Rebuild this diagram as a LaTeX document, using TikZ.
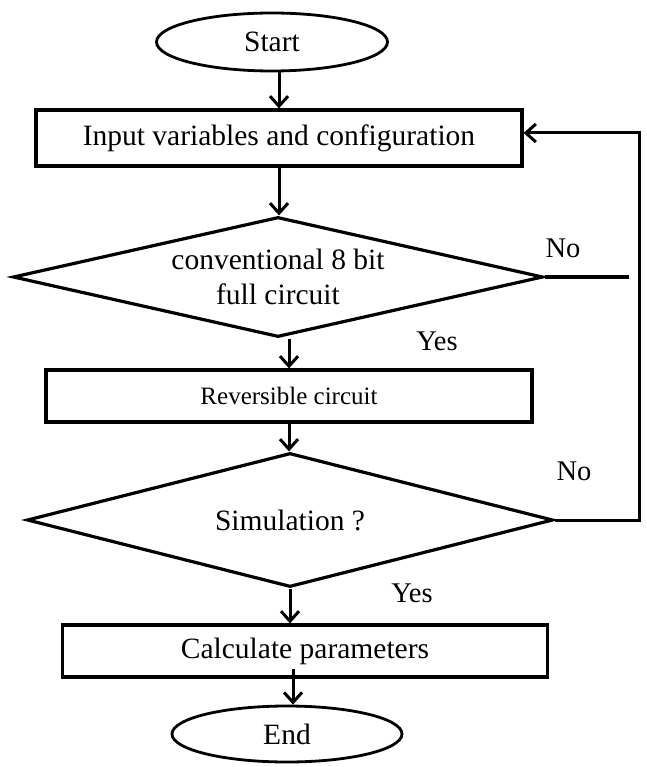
\documentclass[tikz,border=0pt]{standalone}
\usepackage{fontspec}
\setmainfont{Liberation Serif}
\usetikzlibrary{shapes.geometric,arrows.meta}
\begin{document}
\begin{tikzpicture}[x=1pt,y=-1pt,
  base/.style={draw, line width=3.2pt, inner sep=0pt, font=\fontsize{29.5}{35}\selectfont, align=center},
  term/.style={base, ellipse, line width=2.8pt},
  proc/.style={base, rectangle},
  dec/.style={base, diamond, aspect=4.4},
  arr/.style={line width=3pt, -{Straight Barb[length=10pt,width=18pt,line width=3pt]}},
  conn/.style={line width=3.2pt},
  lbl/.style={font=\fontsize{28.5}{34}\selectfont, inner sep=0pt}]
\useasboundingbox (0,0) rectangle (646,767);
\node[term, minimum width=231pt, minimum height=58pt] (start) at (272,42) {Start};
\node[proc, minimum width=486pt, minimum height=56pt] (in) at (279,138) {Input variables and configuration};
\node[dec, minimum width=530pt, minimum height=120pt] (d1) at (278,277) {conventional 8 bit\\full circuit};
\node[proc, minimum width=486pt, minimum height=52pt, font=\fontsize{25}{30}\selectfont] (rev) at (289,396) {Reversible circuit};
\node[dec, minimum width=526pt, minimum height=134pt] (d2) at (290,520) {Simulation ?};
\node[proc, minimum width=485pt, minimum height=52pt] (calc) at (305,651) {Calculate parameters};
\node[term, minimum width=230pt, minimum height=56pt] (end) at (287,734) {End};
\node[lbl] (no1) at (563,248) {No};
\node[lbl] (yes1) at (437,341) {Yes};
\node[lbl] (no2) at (574,471) {No};
\node[lbl] (yes2) at (412,593) {Yes};
\draw[arr] (start.south -| in.north) -- (in.north);
\draw[arr] (in.south) -- (in.south |- d1.north);
\draw[arr] (d1.south -| rev.north) -- (rev.north);
\draw[arr] (rev.south) -- (rev.south |- d2.north);
\draw[arr] (d2.south) -- (d2.south |- calc.north);
\draw[arr] ([xshift=-12pt,yshift=10pt]calc.south) -- ([xshift=-12pt]calc.south |- end.north);
\draw[conn] (d1.east) -- ++(84,0) coordinate (noend);
\draw[arr] (d2.east) -- ++(85,0) coordinate (loopcorner) |- ([yshift=5pt]in.east);
\end{tikzpicture}
\end{document}
